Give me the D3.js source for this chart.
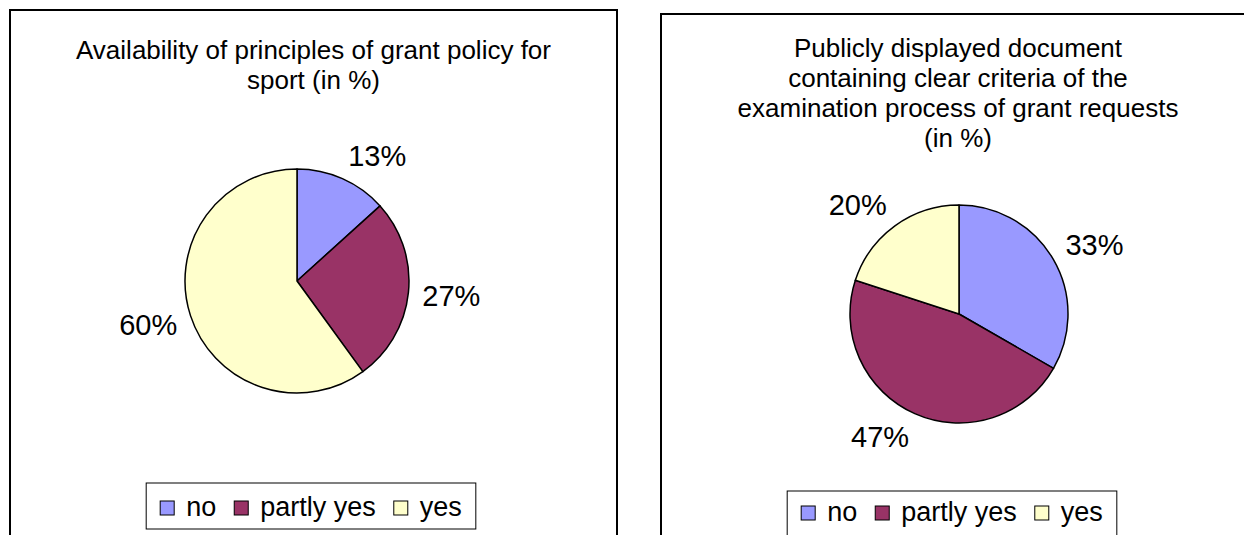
<!DOCTYPE html>
<html>
<head>
<meta charset="utf-8">
<script src="https://cdn.jsdelivr.net/npm/d3@7"></script>
<style>
  body { margin: 0; background: #fff; }
  text { font-family: "Liberation Sans", Arial, sans-serif; fill: #000; }
</style>
</head>
<body>
<script>
// categories and values (percent)
const categories = ["no", "partly yes", "yes"];
const grantPolicyValues = [13.3, 26.7, 60];
const criteriaDocValues = [33.3, 46.7, 20];
const grantPolicyTitle = ["Availability of principles of grant policy for", "sport (in %)"];
const criteriaDocTitle = ["Publicly displayed document", "containing clear criteria of the",
  "examination process of grant requests", "(in %)"];
const colors = ["#9999FF", "#993366", "#FFFFCC"];

const width = 1244, height = 535;

const svg = d3.select("body").append("svg")
  .attr("width", width)
  .attr("height", height);

const color = d3.scaleOrdinal().domain(categories).range(colors);

// draw one chart panel
function drawPanel(cfg) {
  const g = svg.append("g");

  // outer frame
  g.append("rect")
    .attr("x", cfg.x).attr("y", cfg.y)
    .attr("width", cfg.w).attr("height", cfg.h)
    .attr("fill", "#fff").attr("stroke", "#000").attr("stroke-width", 2);

  // title
  const cx = cfg.x + cfg.w / 2;
  g.append("text")
    .attr("text-anchor", "middle")
    .style("font-size", "26px")
    .selectAll("tspan")
    .data(cfg.title)
    .enter()
    .append("tspan")
    .attr("x", cx)
    .attr("y", (d, i) => cfg.titleY + i * 30)
    .text(d => d);

  // pie
  const data = categories.map((c, i) => ({ cat: c, value: cfg.values[i] }));
  const pie = d3.pie().sort(null).value(d => d.value);
  const arc = d3.arc().innerRadius(0).outerRadius(cfg.r);
  const arcs = pie(data);

  const pg = g.append("g").attr("transform", "translate(" + cfg.pcx + "," + cfg.pcy + ")");
  pg.selectAll("path")
    .data(arcs)
    .enter()
    .append("path")
    .attr("d", arc)
    .attr("fill", d => color(d.data.cat))
    .attr("stroke", "#000")
    .attr("stroke-width", 1.5)
    .attr("stroke-linejoin", "round");

  // labels outside the end of each slice
  pg.selectAll("text.lbl")
    .data(arcs)
    .enter()
    .append("text")
    .attr("class", "lbl")
    .attr("text-anchor", "middle")
    .style("font-size", "29px")
    .text(d => Math.round(d.data.value) + "%")
    .each(function(d) {
      const a = (d.startAngle + d.endAngle) / 2;
      const s = Math.sin(a), c = Math.cos(a);
      const lr = cfg.r + 14;
      const w = this.getComputedTextLength();
      const h = 21; // digit height
      const sx = Math.abs(s) > 0.3 ? Math.sign(s) : s / 0.3;
      const cy = Math.max(-1, Math.min(1, c * 1.5));
      const bx = s * lr + sx * w / 2;
      const by = -c * lr - cy * h / 2;
      d3.select(this).attr("x", bx).attr("y", by + h / 2);
    });

  // legend
  const lg = g.append("g");
  const items = lg.selectAll("g")
    .data(categories)
    .enter()
    .append("g");
  items.append("rect")
    .attr("width", 14).attr("height", 14)
    .attr("y", -15)
    .attr("fill", d => color(d))
    .attr("stroke", "#000").attr("stroke-width", 1);
  items.append("text")
    .attr("x", 26)
    .style("font-size", "27px")
    .attr("y", 0)
    .text(d => d);

  // lay out items horizontally
  let xpos = 0;
  items.each(function() {
    const it = d3.select(this);
    it.attr("transform", "translate(" + xpos + ",0)");
    const tw = it.select("text").node().getComputedTextLength();
    xpos += 26 + tw + 18;
  });
  const pad = 14;
  const legW = xpos - 18 + 2 * pad;
  const lx = cfg.legCx - legW / 2;
  lg.insert("rect", ":first-child")
    .attr("x", -pad).attr("y", cfg.legTop - cfg.legBase)
    .attr("width", legW).attr("height", cfg.legH)
    .attr("fill", "#fff").attr("stroke", "#000").attr("stroke-width", 1);
  lg.attr("transform", "translate(" + (lx + pad) + "," + cfg.legBase + ")");
}

drawPanel({
  x: 10, y: 10, w: 607, h: 560,
  title: grantPolicyTitle, titleY: 59,
  values: grantPolicyValues,
  pcx: 297, pcy: 281, r: 112,
  legCx: 311, legTop: 483, legH: 46, legBase: 516
});

drawPanel({
  x: 661, y: 14, w: 594, h: 560,
  title: criteriaDocTitle, titleY: 57,
  values: criteriaDocValues,
  pcx: 959, pcy: 314, r: 109,
  legCx: 952, legTop: 491, legH: 46, legBase: 521
});
</script>
</body>
</html>
